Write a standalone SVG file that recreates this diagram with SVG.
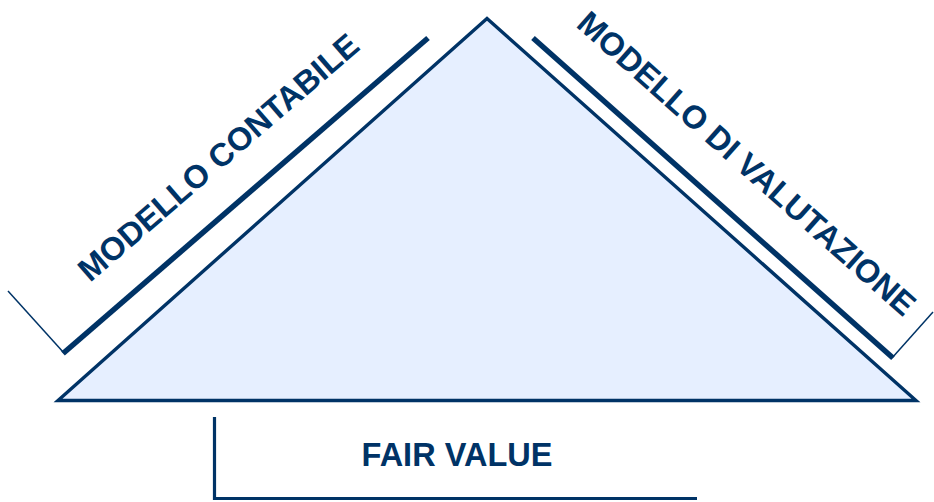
<svg xmlns="http://www.w3.org/2000/svg" width="934" height="502" viewBox="0 0 934 502">
<style>
.ln{stroke:#003366;fill:none;stroke-linecap:butt}
.thick{stroke-width:5.5}
.thin{stroke-width:1.5}
.med{stroke-width:3.2}
.lbl{font-family:"Liberation Sans",Arial,sans-serif;font-weight:bold;font-size:32.5px;fill:#003366}
</style>
<rect width="934" height="502" fill="#ffffff"/>
<g id="triangle">
<polygon points="487,18.5 58,400.5 916,400.5" fill="#e6efff" stroke="#003366" stroke-width="3.4" stroke-linejoin="miter"/>
</g>
<g id="connectors">
<line class="ln thin" x1="8" y1="291" x2="64" y2="353"/>
<line class="ln thick" x1="63" y1="353.5" x2="428" y2="38"/>
<line class="ln thick" x1="533" y1="38" x2="893" y2="358"/>
<line class="ln thin" x1="892" y1="358" x2="933" y2="312"/>
<polyline class="ln med" points="214.5,417 214.5,498.5 697,498.5"/>
</g>
<g id="modello-contabile">
<text class="lbl" x="0" y="0" transform="translate(90,283) rotate(-40.8)">MODELLO CONTABILE</text>
</g>
<g id="modello-valutazione">
<text class="lbl" x="0" y="0" transform="translate(575,26) rotate(41.6)">MODELLO DI VALUTAZIONE</text>
</g>
<g id="fair-value">
<text class="lbl" x="457" y="466" text-anchor="middle">FAIR VALUE</text>
</g>
</svg>
